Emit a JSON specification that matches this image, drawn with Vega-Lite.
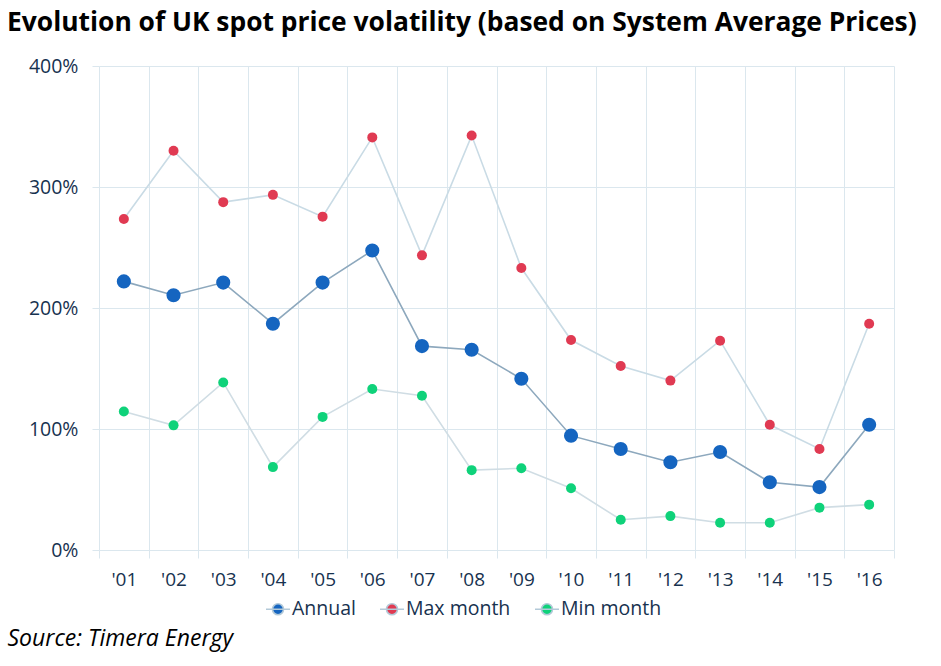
{
  "$schema": "https://vega.github.io/schema/vega-lite/v6.json",
  "width": 795,
  "height": 484,
  "autosize": "none",
  "padding": {"left": 99, "top": 66, "right": 47, "bottom": 116},
  "background": "white",
  "title": {
    "text": "Evolution of UK spot price volatility (based on System Average Prices)",
    "anchor": "start",
    "frame": "group",
    "dx": -92,
    "font": "Open Sans",
    "fontSize": 26.4,
    "fontWeight": "bold",
    "color": "#000000",
    "offset": 20
  },
  "config": {
    "view": {"stroke": null},
    "font": "Open Sans"
  },
  "data": {
    "values": [
      {"year": "2001", "series": "Annual", "value": 222},
      {"year": "2002", "series": "Annual", "value": 210.5},
      {"year": "2003", "series": "Annual", "value": 221},
      {"year": "2004", "series": "Annual", "value": 187},
      {"year": "2005", "series": "Annual", "value": 221},
      {"year": "2006", "series": "Annual", "value": 247.5},
      {"year": "2007", "series": "Annual", "value": 168.5},
      {"year": "2008", "series": "Annual", "value": 165.5},
      {"year": "2009", "series": "Annual", "value": 141.5},
      {"year": "2010", "series": "Annual", "value": 94.5},
      {"year": "2011", "series": "Annual", "value": 83.5},
      {"year": "2012", "series": "Annual", "value": 72.5},
      {"year": "2013", "series": "Annual", "value": 81},
      {"year": "2014", "series": "Annual", "value": 56},
      {"year": "2015", "series": "Annual", "value": 52},
      {"year": "2016", "series": "Annual", "value": 103.5},
      {"year": "2001", "series": "Max month", "value": 273.5},
      {"year": "2002", "series": "Max month", "value": 330},
      {"year": "2003", "series": "Max month", "value": 287.5},
      {"year": "2004", "series": "Max month", "value": 293.5},
      {"year": "2005", "series": "Max month", "value": 275.5},
      {"year": "2006", "series": "Max month", "value": 341},
      {"year": "2007", "series": "Max month", "value": 243.5},
      {"year": "2008", "series": "Max month", "value": 342.5},
      {"year": "2009", "series": "Max month", "value": 233},
      {"year": "2010", "series": "Max month", "value": 173.5},
      {"year": "2011", "series": "Max month", "value": 152},
      {"year": "2012", "series": "Max month", "value": 140},
      {"year": "2013", "series": "Max month", "value": 173},
      {"year": "2014", "series": "Max month", "value": 103.5},
      {"year": "2015", "series": "Max month", "value": 83.5},
      {"year": "2016", "series": "Max month", "value": 187},
      {"year": "2001", "series": "Min month", "value": 114.5},
      {"year": "2002", "series": "Min month", "value": 103},
      {"year": "2003", "series": "Min month", "value": 138.5},
      {"year": "2004", "series": "Min month", "value": 68.5},
      {"year": "2005", "series": "Min month", "value": 110},
      {"year": "2006", "series": "Min month", "value": 133},
      {"year": "2007", "series": "Min month", "value": 127.5},
      {"year": "2008", "series": "Min month", "value": 66},
      {"year": "2009", "series": "Min month", "value": 67.5},
      {"year": "2010", "series": "Min month", "value": 51},
      {"year": "2011", "series": "Min month", "value": 25},
      {"year": "2012", "series": "Min month", "value": 28},
      {"year": "2013", "series": "Min month", "value": 22.5},
      {"year": "2014", "series": "Min month", "value": 22.5},
      {"year": "2015", "series": "Min month", "value": 35},
      {"year": "2016", "series": "Min month", "value": 37.5}
    ]
  },
  "encoding": {
    "x": {
      "field": "year",
      "type": "nominal",
      "sort": null,
      "scale": {"type": "band", "paddingInner": 0, "paddingOuter": 0},
      "axis": {
        "tickBand": "extent",
        "grid": true,
        "gridColor": "#dbe7ee",
        "gridWidth": 1,
        "tickColor": "#dbe7ee",
        "tickSize": 8,
        "domain": false,
        "labelAngle": 0,
        "labelExpr": "datum.label ? \"'\" + substring(datum.label, 2, 4) : ''",
        "labelFont": "Open Sans",
        "labelFontSize": 19,
        "labelColor": "#17324f",
        "labelPadding": 12,
        "title": "Source: Timera Energy",
        "titleFont": "Open Sans",
        "titleFontSize": 23,
        "titleFontStyle": "italic",
        "titleFontWeight": "normal",
        "titleColor": "#000000",
        "titleAlign": "left",
        "titleBaseline": "alphabetic",
        "titleX": -92,
        "titleY": 95
      }
    },
    "y": {
      "field": "value",
      "type": "quantitative",
      "scale": {"domain": [0, 400], "nice": false},
      "axis": {
        "values": [0, 100, 200, 300, 400],
        "labelExpr": "datum.value + '%'",
        "grid": true,
        "gridColor": "#dbe7ee",
        "gridWidth": 1,
        "tickColor": "#dbe7ee",
        "tickSize": 7,
        "domain": false,
        "labelFont": "Open Sans",
        "labelFontSize": 19.5,
        "labelColor": "#17324f",
        "labelPadding": 14,
        "title": null
      }
    }
  },
  "layer": [
    {
      "mark": {"type": "line", "strokeWidth": 1.6},
      "encoding": {
        "detail": {"field": "series"},
        "stroke": {
          "field": "series",
          "type": "nominal",
          "scale": {"domain": ["Min month", "Max month", "Annual"], "range": ["#d0dde4", "#c9dbe5", "#8da8bd"]},
          "legend": null
        }
      }
    },
    {
      "mark": {"type": "point", "filled": true, "opacity": 1},
      "encoding": {
        "color": {
          "field": "series",
          "type": "nominal",
          "scale": {"domain": ["Annual", "Max month", "Min month"], "range": ["#1565c0", "#e03a52", "#0fd27a"]},
          "legend": {
            "orient": "none",
            "direction": "horizontal",
            "legendX": 167,
            "legendY": 531,
            "padding": 0,
            "title": null,
            "symbolType": "M-1.09,0H1.09M0.5,0A0.5,0.5,0,1,1,-0.5,0A0.5,0.5,0,1,1,0.5,0",
            "symbolSize": 484,
            "symbolStrokeColor": "#b3c9d8",
            "symbolStrokeWidth": 1.6,
            "labelFont": "Open Sans",
            "labelFontSize": 19.5,
            "labelColor": "#17324f",
            "labelOffset": 2,
            "columnPadding": 20,
            "symbolOpacity": 1,
            "encode": {
              "symbols": {
                "update": {
                  "stroke": {"value": "#b3c9d8"},
                  "strokeOpacity": {"value": 1},
                  "strokeWidth": {"value": 1.6}
                }
              }
            }
          }
        },
        "size": {
          "condition": {"test": "datum.series === 'Annual'", "value": 200},
          "value": 100
        }
      }
    }
  ]
}
